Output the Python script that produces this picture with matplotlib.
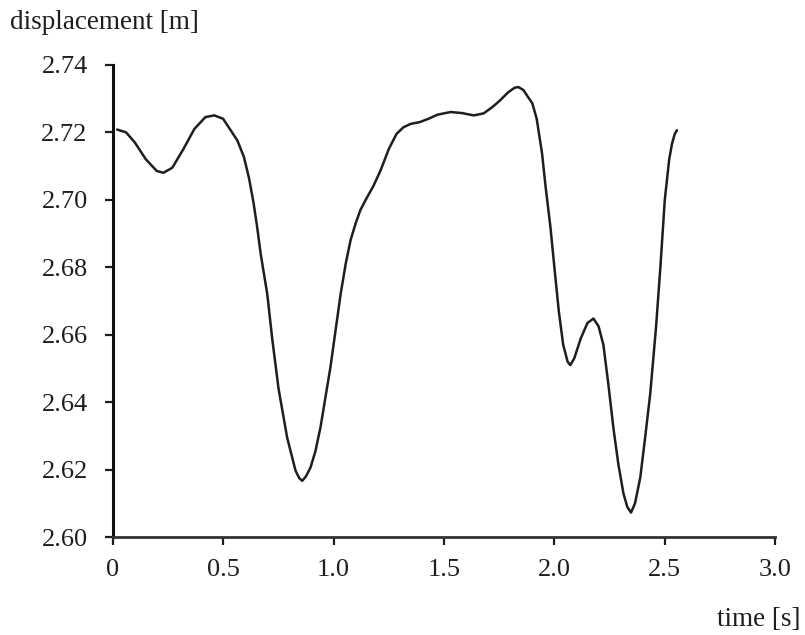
import matplotlib
matplotlib.use("Agg")
import matplotlib.pyplot as plt

time_s = [0.02, 0.06, 0.10, 0.15, 0.20, 0.23, 0.27, 0.32, 0.37, 0.42, 0.46, 0.50,
          0.534, 0.565, 0.594, 0.617, 0.638, 0.655, 0.67, 0.70, 0.722, 0.751, 0.79,
          0.828, 0.845, 0.858, 0.875, 0.896, 0.918, 0.941, 0.986, 1.032, 1.055,
          1.077, 1.10, 1.122, 1.15, 1.18, 1.213, 1.25, 1.285, 1.317, 1.35, 1.39,
          1.43, 1.47, 1.53, 1.58, 1.635, 1.68, 1.72, 1.755, 1.79, 1.82, 1.837,
          1.86, 1.88, 1.90, 1.92, 1.944, 1.96, 1.982, 2.00, 2.02, 2.04, 2.06,
          2.072, 2.09, 2.12, 2.15, 2.177, 2.20, 2.222, 2.245, 2.268, 2.29, 2.313,
          2.33, 2.347, 2.365, 2.389, 2.41, 2.434, 2.46, 2.48, 2.50, 2.52, 2.533,
          2.545, 2.555]
displacement_m = [2.7208, 2.7200, 2.7170, 2.7120, 2.7085, 2.7080, 2.7095, 2.7150,
                  2.7210, 2.7245, 2.7250, 2.7240,
                  2.7206, 2.7175, 2.7127, 2.7065, 2.6990, 2.6915, 2.6840, 2.6720,
                  2.6590, 2.6440, 2.6295,
                  2.6197, 2.6175, 2.6167, 2.6180, 2.6207, 2.6255, 2.6326, 2.6504,
                  2.6720, 2.6810,
                  2.6880, 2.6930, 2.6970, 2.7005, 2.7040, 2.7087, 2.7150, 2.7195,
                  2.7215, 2.7225, 2.7230,
                  2.7240, 2.7252, 2.7260, 2.7257, 2.7250, 2.7256, 2.7275, 2.7295,
                  2.7318, 2.7332, 2.7334,
                  2.7325, 2.7305, 2.7286, 2.7240, 2.7138, 2.7040, 2.6920, 2.6800,
                  2.6670, 2.6570, 2.6520,
                  2.6510, 2.6530, 2.6590, 2.6635, 2.6648, 2.6625, 2.6570, 2.6450,
                  2.6320, 2.6215, 2.6129,
                  2.6090, 2.6073, 2.6100, 2.6177, 2.6290, 2.6425, 2.6620, 2.6800,
                  2.7000, 2.7120, 2.7167,
                  2.7195, 2.7206]

x_ticks = [0, 0.5, 1.0, 1.5, 2.0, 2.5, 3.0]
x_tick_labels = ["0", "0.5", "1.0", "1.5", "2.0", "2.5", "3.0"]
y_ticks = [2.60, 2.62, 2.64, 2.66, 2.68, 2.70, 2.72, 2.74]
y_tick_labels = ["2.60", "2.62", "2.64", "2.66", "2.68", "2.70", "2.72", "2.74"]

plt.rcParams['font.family'] = ['Liberation Serif', 'DejaVu Serif']

fig = plt.figure(figsize=(8.05, 6.35), dpi=100)
ax = fig.add_axes([0.140, 0.154, 0.823, 0.744])

ax.plot(time_s, displacement_m, color='#1e1e1e', linewidth=1.8,
        solid_capstyle='round', solid_joinstyle='round')

ax.set_xlim(0, 3.0)
ax.set_ylim(2.60, 2.74)
ax.set_xticks(x_ticks)
ax.set_xticklabels(x_tick_labels)
ax.set_yticks(y_ticks)
ax.set_yticklabels(y_tick_labels)

for s in ['top', 'right']:
    ax.spines[s].set_visible(False)
ax.spines['left'].set_linewidth(2.2)
ax.spines['bottom'].set_linewidth(2.0)
ax.spines['left'].set_color('#111111')
ax.spines['bottom'].set_color('#333333')

ax.tick_params(axis='both', direction='out', length=6, width=1.6, colors='#1e1e1e',
               labelsize=19)
ax.tick_params(axis='y', pad=12)
ax.tick_params(axis='x', pad=10)

fig.text(0.012, 0.965, "displacement [m]", fontsize=19.5, ha='left', va='center', color='#1e1e1e')
fig.text(0.995, 0.024, "time [s]", fontsize=19.5, ha='right', va='center', color='#1e1e1e')

fig.savefig("out.png", dpi=100, facecolor='white')
